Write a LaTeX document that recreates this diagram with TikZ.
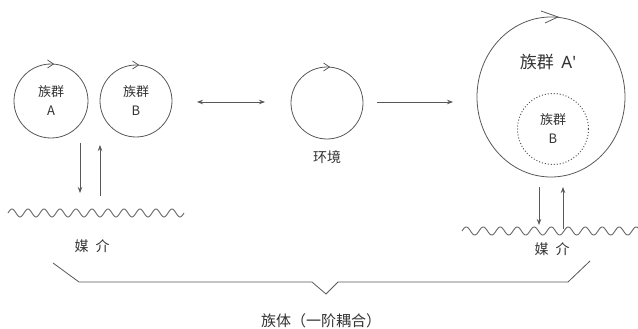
\documentclass[tikz,border=0pt]{standalone}
\usepackage{fontspec}
\setmainfont{Noto Sans CJK SC}
\newfontfamily\latfont{Noto Sans}
\usetikzlibrary{shapes.geometric,arrows.meta}
\begin{document}
\begin{tikzpicture}[x=1pt,y=-1pt,
  ln/.style={draw=black!65, line width=0.8pt},
  ring/.style={ln, circle, inner sep=0pt, outer sep=0pt},
  txt/.style={text=black!80, align=center, inner sep=0pt},
  small/.style={txt, font=\fontsize{13}{19}\selectfont},
  arr/.style={ln, -{Stealth[length=6pt,width=4.5pt]}},
  darr/.style={ln, {Stealth[length=6pt,width=4.5pt]}-{Stealth[length=6pt,width=4.5pt]}},
  wave/.style={draw=black!60, line width=0.9pt}
]
\useasboundingbox (0,0) rectangle (638,329);
\fill[white] (0,0) rectangle (638,329);

% circles
\node[ring, minimum size=74pt, small] (A) at (51,101) {族群\\A};
\node[ring, minimum size=72pt, small] (B) at (136,101) {族群\\B};
\node[ring, minimum size=72pt] (E) at (327,103) {};
\node[txt, font=\fontsize{14}{16}\selectfont] (El) at (327,157) {环境};
\node[ln, ellipse, inner sep=0pt, outer sep=0pt, minimum width=148pt, minimum height=160pt] (Ap) at (551,97) {};
\node[txt, font=\fontsize{17}{20}\selectfont] (ApL) at (548,62) {族群\hspace{0.45em}{\latfont A\textquotesingle}};
\node[circle, draw=black!65, dotted, line width=1pt, inner sep=0pt, minimum size=71pt, small] (Bin) at (553,129) {族群\\B};

% chevrons (circulation marks)
\foreach \n in {A,B,E}
  \draw[ln] (\n.north) ++(-3.5,-4) -- ++(6,4) -- ++(-6,4);
\draw[ln] (Ap.north) ++(-10,-6) -- ++(17,6) -- ++(-13,6);

% horizontal connectors
\coordinate (h1s) at (197,102);
\coordinate (h1e) at (265,102);
\coordinate (h2s) at (377,102);
\coordinate (h2e) at (453,102);
\draw[darr] (h1s) -- (h1e);
\draw[arr] (h2s) -- (h2e);

% left vertical connectors
\coordinate (d1s) at (80,143);
\coordinate (d1e) at (80,193);
\coordinate (u1s) at (100,196);
\coordinate (u1e) at (100,145);
\draw[arr] (d1s) -- (d1e);
\draw[arr] (u1s) -- (u1e);

% right vertical connectors
\coordinate (d2s) at (539,187);
\coordinate (d2e) at (539,225);
\coordinate (u2s) at (563,229);
\coordinate (u2e) at (563,187);
\draw[arr] (d2s) -- (d2e);
\draw[arr] (u2s) -- (u2e);

% media (wavy lines)
\draw[wave] plot[domain=8:184, samples=220, smooth] (\x,{213-4*sin((\x-8)*22.5)});
\draw[wave] plot[domain=462:638, samples=220, smooth] (\x,{231-4*sin((\x-462)*21.18)});
\node[txt, font=\fontsize{14}{16}\selectfont] (M1) at (92,246) {媒\hspace{0.5em}介};
\node[txt, font=\fontsize{14}{16}\selectfont] (M2) at (552,249) {媒\hspace{0.5em}介};

% brace
\coordinate (b1) at (53,263);
\coordinate (b2) at (79,282);
\coordinate (b3) at (312,282);
\coordinate (b4) at (326,294);
\coordinate (b5) at (338,282);
\coordinate (b6) at (568,282);
\coordinate (b7) at (590,261);
\draw[ln] (b1) -- (b2) -- (b3) -- (b4) -- (b5) -- (b6) -- (b7);
\node[txt, font=\fontsize{15}{17}\selectfont] (Z) at (321,321) {族体（一阶耦合）};
\end{tikzpicture}
\end{document}
